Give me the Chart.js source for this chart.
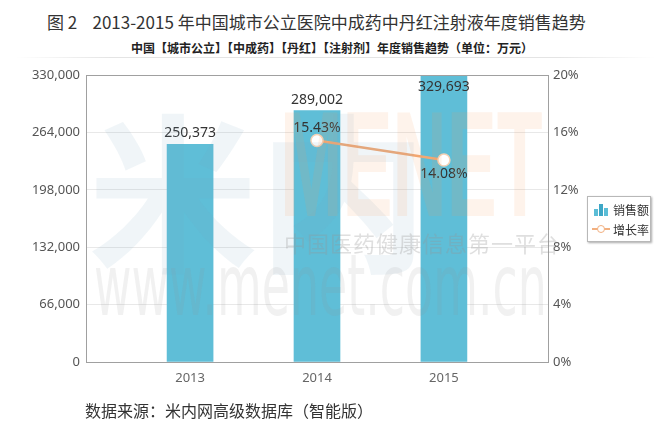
<!DOCTYPE html>
<html>
<head>
<meta charset="utf-8">
<script src="https://cdn.jsdelivr.net/npm/chart.js@4/dist/chart.umd.min.js"></script>
<style>
  body { margin: 0; background: #fff; }
  #lienzo { position: absolute; left: 0; top: 0; width: 664px; height: 433px; overflow: hidden;
            font-family: "Noto Sans CJK SC", "Noto Sans", sans-serif; color: #333; }
  canvas { position: absolute; left: 0; top: 0; }
  .titulo { position: absolute; left: 47px; top: 9px; font-size: 17px; white-space: nowrap; color: #333; }
  .subtitulo { position: absolute; left: 0; width: 664px; top: 39px; text-align: center; font-size: 12px; font-weight: bold; color: #222; }
  .separador { position: absolute; left: 15px; width: 640px; top: 57px; height: 1px;
               background: linear-gradient(to right, #fff, #e4e4e4 15%, #e4e4e4 85%, #fff); }
  .fuente { position: absolute; left: 85px; top: 398px; font-size: 16px; color: #333; }
  .leyenda { position: absolute; left: 587px; top: 196px; width: 62px; height: 44px; border: 1px solid #b8b8b8;
             box-shadow: 1px 1px 2px #aaa; background: #fff; font-size: 12px; color: #333; }
  .leyenda div { position: absolute; left: 25px; }
  .marca { position: absolute; pointer-events: none; white-space: nowrap; }
</style>
</head>
<body>
<div id="lienzo">
  <div class="titulo">图 2&nbsp;&nbsp;&nbsp;&nbsp;2013-2015 年中国城市公立医院中成药中丹红注射液年度销售趋势</div>
  <div class="subtitulo">中国【城市公立】【中成药】【丹红】【注射剂】年度销售趋势（单位：万元）</div>
  <div class="separador"></div>
  <canvas id="grafico" width="664" height="433"></canvas>
  <!-- marca de agua -->
  <div class="marca" style="left:88px;top:62px;font-size:170px;font-weight:bold;color:rgba(120,160,190,0.11);">米内</div>
  <div class="marca" style="left:280px;top:78px;font-size:150px;font-weight:bold;color:rgba(245,160,90,0.12);font-family:'Liberation Sans';transform:scaleX(0.5);transform-origin:left top;">MENET</div>
  <div class="marca" style="left:284px;top:226px;font-size:22px;color:rgba(150,150,150,0.3);letter-spacing:1px;">中国医药健康信息第一平台</div>
  <div class="marca" style="left:94px;top:236px;font-size:85px;color:rgba(150,150,150,0.13);font-family:'DejaVu Sans';transform:scaleX(0.54);transform-origin:left top;">www.menet.com.cn</div>
  <div class="leyenda">
    <svg style="position:absolute;left:6px;top:6px" width="14" height="13">
      <rect x="0" y="6" width="4" height="7" fill="#5bbdd6"/><rect x="5" y="1" width="4" height="12" fill="#3ea7c6"/><rect x="10" y="5" width="4" height="8" fill="#5bbdd6"/>
    </svg>
    <div style="top:4px">销售额</div>
    <svg style="position:absolute;left:4px;top:27px" width="18" height="10">
      <line x1="0" y1="5" x2="18" y2="5" stroke="#f2b080" stroke-width="2"/><circle cx="9" cy="5" r="3.5" fill="#fff" stroke="#f2b080"/>
    </svg>
    <div style="top:24px">增长率</div>
  </div>
  <div class="fuente">数据来源：米内网高级数据库（智能版）</div>
</div>

<script>
// Datos
const anios = [2013, 2014, 2015];
const ventas = [250373, 289002, 329693];          // 万元
const aniosCrecimiento = [2014, 2015];
const crecimiento = [15.43, 14.08];                // %

// Escalas
const maxVentas = 330000;
const pasoVentas = 66000;
const maxCrecimiento = 20;
const pasoCrecimiento = 4;

const formatoMiles = v => Math.round(v).toLocaleString('en-US');

// Etiquetas de valor sobre barras y puntos
const pluginEtiquetas = {
    id: 'etiquetas',
    afterDatasetsDraw(chart) {
        const ctx = chart.ctx;
        const area = chart.chartArea;
        ctx.save();
        ctx.font = '14px "Noto Sans", "DejaVu Sans", sans-serif';
        ctx.fillStyle = '#333';
        ctx.textAlign = 'center';
        ctx.textBaseline = 'middle';

        chart.getDatasetMeta(0).data.forEach((barra, i) => {
            let y = barra.y - 11;
            if (y - 8 < area.top) y = barra.y + 12;   // sin espacio arriba: va dentro de la barra
            ctx.fillText(formatoMiles(ventas[i]), barra.x, y);
        });

        chart.getDatasetMeta(1).data.forEach((punto, i) => {
            const y = i === 0 ? punto.y - 13 : punto.y + 14;
            ctx.fillText(crecimiento[i].toFixed(2) + '%', punto.x, y);
        });
        ctx.restore();
    }
};

// Marco completo alrededor del área de trazado
const pluginMarco = {
    id: 'marco',
    afterDatasetsDraw(chart) {
        const a = chart.chartArea;
        const ctx = chart.ctx;
        ctx.save();
        ctx.strokeStyle = '#a0a0a0';
        ctx.lineWidth = 1;
        ctx.strokeRect(Math.round(a.left) + 0.5, Math.round(a.top) + 0.5,
                       Math.round(a.right - a.left), Math.round(a.bottom - a.top));
        ctx.restore();
    }
};

const fuenteEjes = { family: '"Noto Sans", "DejaVu Sans", sans-serif', size: 13 };

new Chart(document.getElementById('grafico'), {
    type: 'bar',
    data: {
        datasets: [{
            type: 'bar',
            label: '销售额',
            data: anios.map((a, i) => ({ x: a, y: ventas[i] })),
            backgroundColor: '#5fbed7',
            borderWidth: 0,
            barThickness: 46,
            yAxisID: 'y',
            order: 2
        }, {
            type: 'line',
            label: '增长率',
            data: aniosCrecimiento.map((a, i) => ({ x: a, y: crecimiento[i] })),
            borderColor: '#f2a874',
            borderWidth: 2.5,
            pointRadius: 6,
            pointBackgroundColor: '#fff',
            pointBorderColor: '#f6d2b6',
            pointBorderWidth: 1.5,
            yAxisID: 'y1',
            order: 1
        }]
    },
    options: {
        responsive: false,
        animation: false,
        layout: { padding: { top: 75, left: 0, right: 76, bottom: 41 } },
        plugins: { legend: { display: false }, tooltip: { enabled: false } },
        scales: {
            x: {
                type: 'linear',
                offset: false,
                min: 2012.18,
                max: 2015.82,
                afterBuildTicks: scale => { scale.ticks = anios.map(v => ({ value: v })); },
                afterFit: scale => { scale.height = 30; },
                grid: { display: false, drawTicks: false, offset: false },
                border: { display: false },
                ticks: { color: '#666', font: fuenteEjes, padding: 8, callback: v => String(v) }
            },
            y: {
                position: 'left',
                min: 0,
                max: maxVentas,
                afterFit: scale => { scale.width = 86; },
                grid: { color: '#e8e8e8', drawTicks: false },
                border: { display: false },
                ticks: { stepSize: pasoVentas, color: '#555', font: fuenteEjes, padding: 6, callback: formatoMiles }
            },
            y1: {
                position: 'right',
                min: 0,
                max: maxCrecimiento,
                afterFit: scale => { scale.width = 40; },
                grid: { display: false, drawTicks: false },
                border: { display: false },
                ticks: { stepSize: pasoCrecimiento, color: '#555', font: fuenteEjes, padding: 5, callback: v => v + '%' }
            }
        }
    },
    plugins: [pluginEtiquetas, pluginMarco]
});
</script>
</body>
</html>
